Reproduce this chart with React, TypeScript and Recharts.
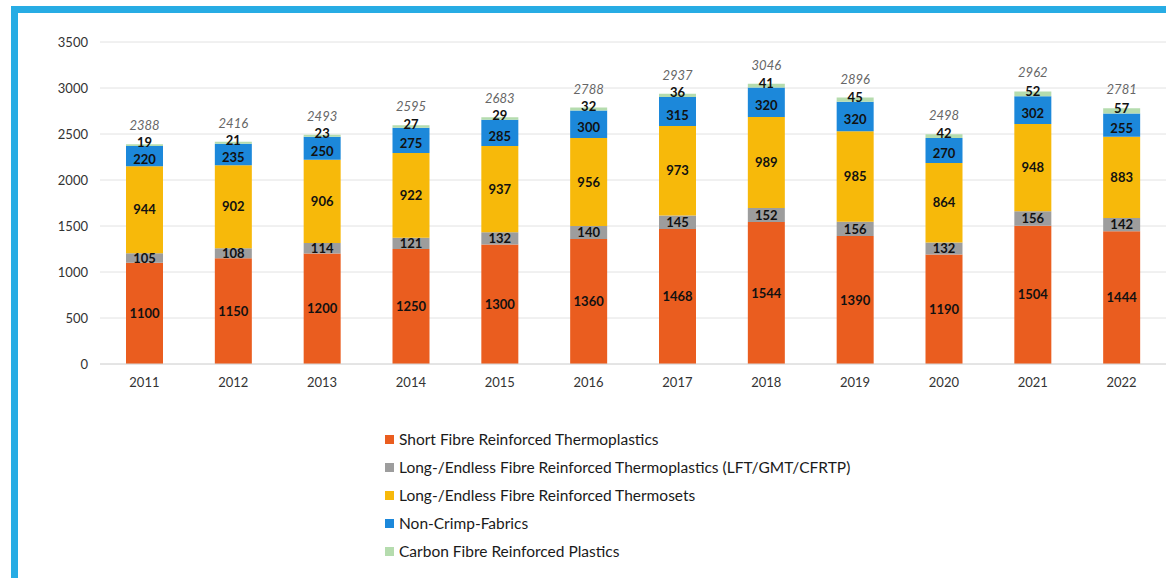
import { Bar, BarChart, CartesianGrid, LabelList, Legend, XAxis, YAxis } from "recharts";

const YEARS = ["2011", "2012", "2013", "2014", "2015", "2016", "2017", "2018", "2019", "2020", "2021", "2022"];

const SHORT_FIBRE = [1100, 1150, 1200, 1250, 1300, 1360, 1468, 1544, 1390, 1190, 1504, 1444];
const LONG_THERMOPLASTICS = [105, 108, 114, 121, 132, 140, 145, 152, 156, 132, 156, 142];
const LONG_THERMOSETS = [944, 902, 906, 922, 937, 956, 973, 989, 985, 864, 948, 883];
const NON_CRIMP = [220, 235, 250, 275, 285, 300, 315, 320, 320, 270, 302, 255];
const CARBON = [19, 21, 23, 27, 29, 32, 36, 41, 45, 42, 52, 57];

const Y_TICKS = [0, 500, 1000, 1500, 2000, 2500, 3000, 3500];

const SERIES = [
  { key: "short", name: "Short Fibre Reinforced Thermoplastics", color: "#ea5d1f" },
  { key: "longTp", name: "Long-/Endless Fibre Reinforced Thermoplastics (LFT/GMT/CFRTP)", color: "#9d9d9d" },
  { key: "longTs", name: "Long-/Endless Fibre Reinforced Thermosets", color: "#f7b90a" },
  { key: "ncf", name: "Non-Crimp-Fabrics", color: "#1c88da" },
  { key: "carbon", name: "Carbon Fibre Reinforced Plastics", color: "#b5dcae" }
];

const data = YEARS.map((year, i) => ({
  year,
  short: SHORT_FIBRE[i],
  longTp: LONG_THERMOPLASTICS[i],
  longTs: LONG_THERMOSETS[i],
  ncf: NON_CRIMP[i],
  carbon: CARBON[i],
  total: SHORT_FIBRE[i] + LONG_THERMOPLASTICS[i] + LONG_THERMOSETS[i] + NON_CRIMP[i] + CARBON[i]
}));

const FONT = "Lato, 'Open Sans', sans-serif";
const SEG_LABEL = { fontFamily: FONT, fontSize: 13, fontWeight: 700, fill: "#111" };

// centred label nudged up/down a few px so the carbon and NCF numbers don't collide
function shiftedLabel(dy: number) {
  return function ShiftedLabel(props: any) {
    const { x, y, width, height, value } = props;
    return (
      <text
        x={x + width / 2}
        y={y + height / 2 + dy}
        textAnchor="middle"
        dominantBaseline="central"
        style={SEG_LABEL}
      >
        {value}
      </text>
    );
  };
}

const CarbonLabel = shiftedLabel(-3);
const NcfLabel = shiftedLabel(3);

function LegendList() {
  return (
    <div style={{ fontFamily: FONT, fontSize: 15.5, color: "#1a1a1a" }}>
      {SERIES.map((s) => (
        <div key={s.key} style={{ display: "flex", alignItems: "center", height: 28 }}>
          <span style={{ display: "inline-block", width: 9, height: 9, background: s.color, marginRight: 5 }} />
          <span>{s.name}</span>
        </div>
      ))}
    </div>
  );
}

export default function App() {
  return (
    <div style={{ position: "absolute", left: 0, top: 0, width: 1166, height: 578, background: "#fff", overflow: "hidden" }}>
      <div
        style={{
          position: "absolute",
          left: 11,
          top: 6,
          width: 1166,
          height: 600,
          borderTop: "7px solid #27ace4",
          borderLeft: "7px solid #27ace4"
        }}
      />
      <div style={{ position: "absolute", left: 0, top: 0 }}>
        <BarChart
          width={1166}
          height={578}
          data={data}
          margin={{ top: 42, right: 0, bottom: 184, left: 40 }}
        >
          <CartesianGrid vertical={false} stroke="#e2e2e2" />
          <XAxis
            dataKey="year"
            axisLine={{ stroke: "#d8d8d8" }}
            tickLine={false}
            height={30}
            tickMargin={8}
            tick={{ fontFamily: FONT, fontSize: 13, fill: "#333" }}
          />
          <YAxis
            width={60}
            domain={[0, 3500]}
            ticks={Y_TICKS}
            axisLine={false}
            tickLine={false}
            tickMargin={6}
            tick={{ fontFamily: FONT, fontSize: 13, fill: "#333" }}
          />
          <Legend
            layout="vertical"
            align="center"
            verticalAlign="middle"
            wrapperStyle={{ left: 385, top: 425, width: 600 }}
            content={() => <LegendList />}
          />
          {SERIES.map((s, idx) => {
            const isTop = idx === SERIES.length - 1;
            let label;
            if (s.key === "carbon") label = <LabelList dataKey={s.key} content={CarbonLabel} />;
            else if (s.key === "ncf") label = <LabelList dataKey={s.key} content={NcfLabel} />;
            else label = <LabelList dataKey={s.key} position="center" style={SEG_LABEL} />;
            return (
              <Bar
                key={s.key}
                dataKey={s.key}
                name={s.name}
                stackId="a"
                fill={s.color}
                barSize={37}
                isAnimationActive={false}
              >
                {label}
                {isTop && (
                  <LabelList
                    dataKey="total"
                    position="top"
                    offset={14}
                    style={{ fontFamily: FONT, fontSize: 13, fontStyle: "italic", fill: "#666" }}
                  />
                )}
              </Bar>
            );
          })}
        </BarChart>
      </div>
    </div>
  );
}
